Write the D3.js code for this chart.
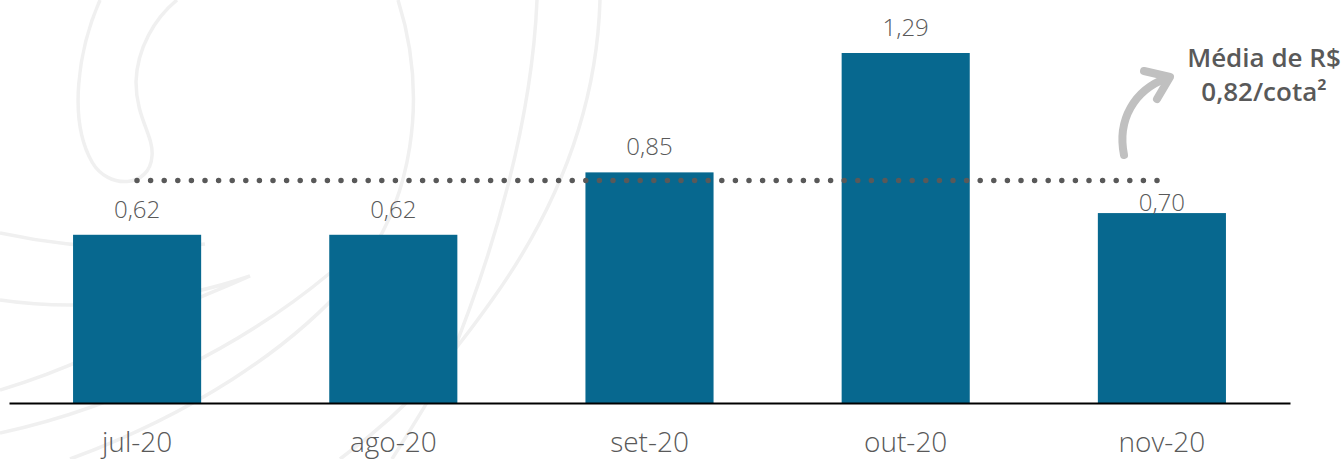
<!DOCTYPE html>
<html>
<head>
<meta charset="utf-8">
<script src="https://cdn.jsdelivr.net/npm/d3@7"></script>
<style>
  html, body { margin: 0; padding: 0; background: #fff; }
  svg { display: block; }
  text { font-family: "Open Sans", "Noto Sans", sans-serif; }
</style>
</head>
<body>
<svg id="chart" width="1344" height="459"></svg>
<script>
// Monthly distribution per quota (R$)
const months = ["jul-20", "ago-20", "set-20", "out-20", "nov-20"];
const values = [0.62, 0.62, 0.85, 1.29, 0.70];
const average = [0.82];
const noteLines = ["Média de R$", "0,82/cota²"];

const W = 1344, H = 459;
const svg = d3.select("#chart");

const fmt = v => d3.format(".2f")(v).replace(".", ",");

// Decorative swirl in the background
const swirl = [
  "M100,0 C78,50 68,120 92,162 C108,190 150,188 152,156 C154,136 136,118 136,82 C137,48 155,18 177,0",
  "M398,0 C428,95 415,205 350,280 C290,350 190,415 70,459",
  "M537,0 C532,120 495,250 447,367 C430,400 410,430 392,459",
  "M600,0 C597,105 560,205 492,300 C460,345 420,400 340,459",
  "M0,233 C60,246 130,252 205,244",
  "M0,300 C80,312 175,302 250,276 C215,292 190,300 170,312 C120,345 60,372 0,390",
  "M330,273 C250,340 130,405 0,433"
];
svg.append("g")
  .selectAll("path")
  .data(swirl)
  .join("path")
  .attr("d", d => d)
  .attr("fill", "none")
  .attr("stroke", "#f0f0f0")
  .attr("stroke-width", 3.5);

const x = d3.scaleBand()
  .domain(months)
  .range([9, 1290])
  .paddingInner(0.5)
  .paddingOuter(0.25);

const y = d3.scaleLinear()
  .domain([0, 1.29])
  .range([403, 53]);

// Bars
svg.append("g")
  .selectAll("rect")
  .data(values)
  .join("rect")
  .attr("x", (d, i) => x(months[i]))
  .attr("y", d => y(d))
  .attr("width", x.bandwidth())
  .attr("height", d => y(0) - y(d))
  .attr("fill", "#07688f");

// Baseline axis
const xAxis = svg.append("g")
  .attr("transform", `translate(0,${y(0)})`)
  .call(d3.axisBottom(x).tickSize(0).tickPadding(29));
xAxis.select(".domain")
  .attr("stroke", "#000")
  .attr("stroke-width", 2.2);
xAxis.selectAll(".tick text")
  .attr("fill", "#595959")
  .attr("font-size", 28)
  .attr("font-weight", 300)
  .attr("font-family", "'Open Sans', sans-serif");

// Average line (dotted)
const avgY = y(average[0]);
svg.append("line")
  .attr("x1", 137)
  .attr("x2", 1158)
  .attr("y1", avgY)
  .attr("y2", avgY)
  .attr("stroke", "#595959")
  .attr("stroke-width", 5.5)
  .attr("stroke-linecap", "round")
  .attr("stroke-dasharray", "0 13.6");

// Value labels; a label that would sit on the average line drops just above its bar
svg.append("g")
  .selectAll("text")
  .data(values)
  .join("text")
  .attr("x", (d, i) => x(months[i]) + x.bandwidth() / 2)
  .attr("y", d => {
    const base = y(d) - 17;
    const top = base - 18;
    return (base > avgY - 4 && top < avgY + 4) ? y(d) - 2 : base;
  })
  .attr("text-anchor", "middle")
  .attr("fill", "#595959")
  .attr("font-size", 24)
  .attr("font-weight", 300)
  .text(d => fmt(d));

// Annotation with curved arrow
const note = svg.append("g");
note.append("path")
  .attr("d", "M1124,155 C1117,120 1134,90 1167,78")
  .attr("fill", "none")
  .attr("stroke", "#c0c0c0")
  .attr("stroke-width", 8)
  .attr("stroke-linecap", "round");
note.append("path")
  .attr("d", "M1144,71 L1170,77 L1157,99")
  .attr("fill", "none")
  .attr("stroke", "#c0c0c0")
  .attr("stroke-width", 8)
  .attr("stroke-linecap", "round")
  .attr("stroke-linejoin", "round");
note.selectAll("text")
  .data(noteLines)
  .join("text")
  .attr("x", 1264)
  .attr("y", (d, i) => 67 + i * 34)
  .attr("text-anchor", "middle")
  .attr("fill", "#595959")
  .attr("font-size", 26)
  .attr("font-weight", 600)
  .text(d => d);
</script>
</body>
</html>
